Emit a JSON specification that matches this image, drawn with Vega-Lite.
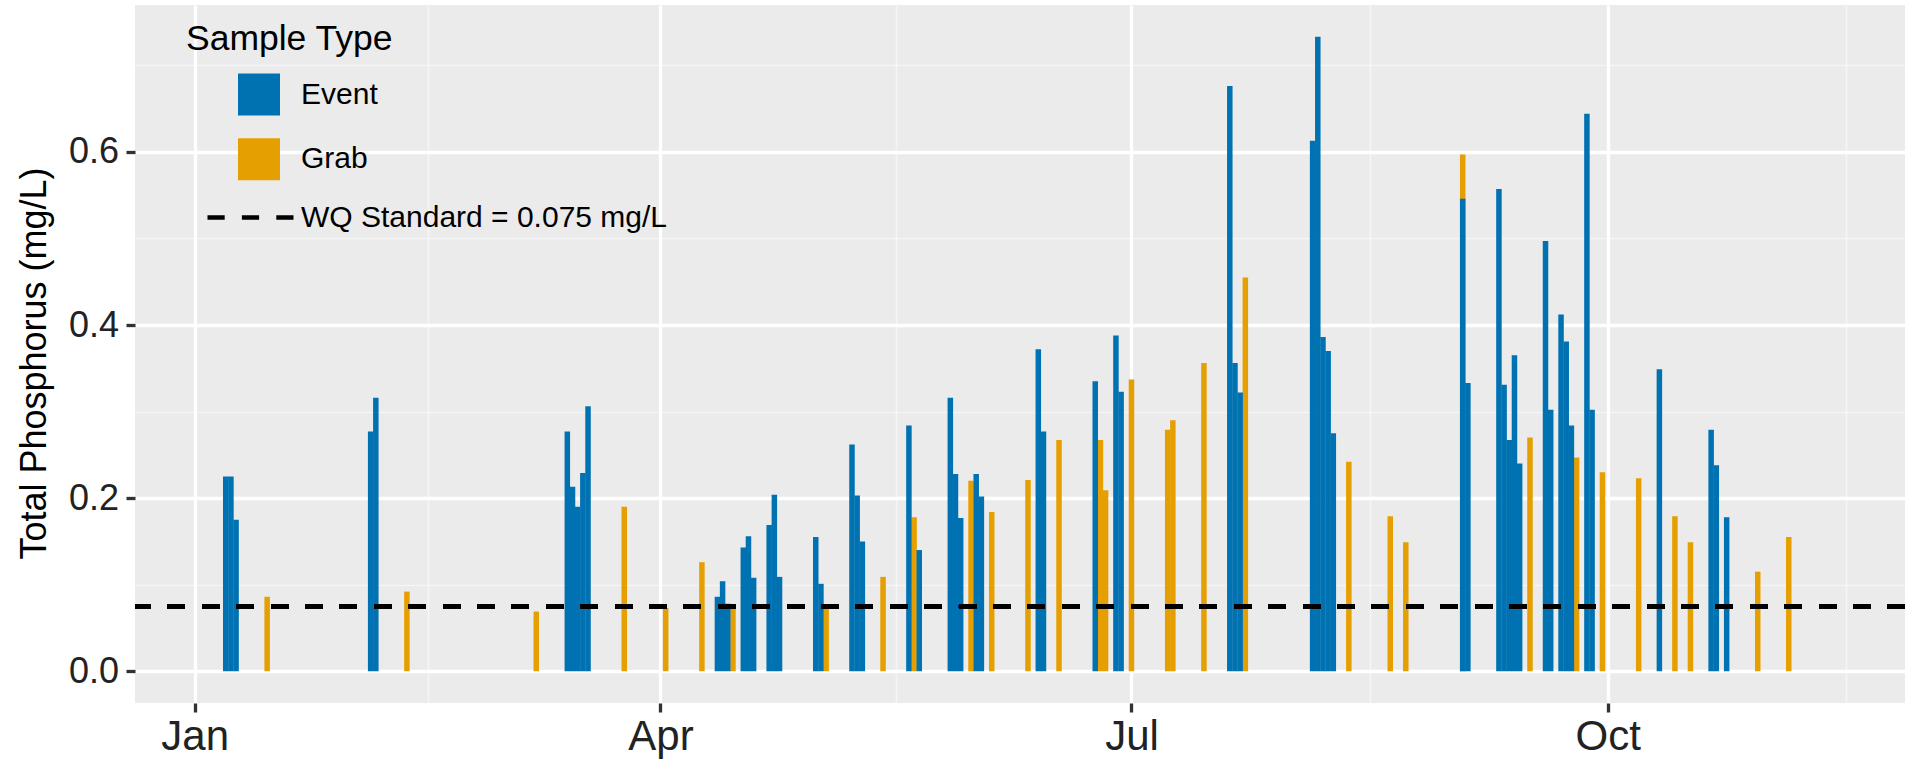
{
  "$schema": "https://vega.github.io/schema/vega-lite/v6.json",
  "width": 1770,
  "height": 698,
  "autosize": {"type": "none"},
  "padding": {"left": 135, "top": 5, "right": 0, "bottom": 56},
  "background": "white",
  "config": {
    "view": {"stroke": null, "fill": "#EBEBEB"},
    "font": "Liberation Sans",
    "legend": {"padding": 0, "labelLimit": 1000, "titleLimit": 1000}
  },
  "data": {
    "values": [
      {"date": "2019-01-15", "type": "Grab", "tp": 0.086},
      {"date": "2019-02-11", "type": "Grab", "tp": 0.092},
      {"date": "2019-03-08", "type": "Grab", "tp": 0.069},
      {"date": "2019-03-25", "type": "Grab", "tp": 0.19},
      {"date": "2019-04-02", "type": "Grab", "tp": 0.073},
      {"date": "2019-04-09", "type": "Grab", "tp": 0.126},
      {"date": "2019-04-15", "type": "Grab", "tp": 0.072},
      {"date": "2019-05-03", "type": "Grab", "tp": 0.077},
      {"date": "2019-05-14", "type": "Grab", "tp": 0.109},
      {"date": "2019-05-20", "type": "Grab", "tp": 0.178},
      {"date": "2019-05-31", "type": "Grab", "tp": 0.22},
      {"date": "2019-06-04", "type": "Grab", "tp": 0.184},
      {"date": "2019-06-11", "type": "Grab", "tp": 0.221},
      {"date": "2019-06-17", "type": "Grab", "tp": 0.267},
      {"date": "2019-06-25", "type": "Grab", "tp": 0.267},
      {"date": "2019-06-26", "type": "Grab", "tp": 0.209},
      {"date": "2019-07-01", "type": "Grab", "tp": 0.337},
      {"date": "2019-07-08", "type": "Grab", "tp": 0.279},
      {"date": "2019-07-09", "type": "Grab", "tp": 0.29},
      {"date": "2019-07-15", "type": "Grab", "tp": 0.356},
      {"date": "2019-07-23", "type": "Grab", "tp": 0.455},
      {"date": "2019-08-12", "type": "Grab", "tp": 0.242},
      {"date": "2019-08-20", "type": "Grab", "tp": 0.179},
      {"date": "2019-08-23", "type": "Grab", "tp": 0.149},
      {"date": "2019-09-03", "type": "Grab", "tp": 0.597},
      {"date": "2019-09-16", "type": "Grab", "tp": 0.27},
      {"date": "2019-09-25", "type": "Grab", "tp": 0.247},
      {"date": "2019-09-30", "type": "Grab", "tp": 0.23},
      {"date": "2019-10-07", "type": "Grab", "tp": 0.223},
      {"date": "2019-10-14", "type": "Grab", "tp": 0.179},
      {"date": "2019-10-17", "type": "Grab", "tp": 0.149},
      {"date": "2019-10-30", "type": "Grab", "tp": 0.115},
      {"date": "2019-11-05", "type": "Grab", "tp": 0.155},
      {"date": "2019-01-07", "type": "Event", "tp": 0.225},
      {"date": "2019-01-08", "type": "Event", "tp": 0.225},
      {"date": "2019-01-09", "type": "Event", "tp": 0.175},
      {"date": "2019-02-04", "type": "Event", "tp": 0.277},
      {"date": "2019-02-05", "type": "Event", "tp": 0.316},
      {"date": "2019-03-14", "type": "Event", "tp": 0.277},
      {"date": "2019-03-15", "type": "Event", "tp": 0.213},
      {"date": "2019-03-16", "type": "Event", "tp": 0.19},
      {"date": "2019-03-17", "type": "Event", "tp": 0.229},
      {"date": "2019-03-18", "type": "Event", "tp": 0.306},
      {"date": "2019-04-12", "type": "Event", "tp": 0.086},
      {"date": "2019-04-13", "type": "Event", "tp": 0.104},
      {"date": "2019-04-14", "type": "Event", "tp": 0.078},
      {"date": "2019-04-17", "type": "Event", "tp": 0.143},
      {"date": "2019-04-18", "type": "Event", "tp": 0.156},
      {"date": "2019-04-19", "type": "Event", "tp": 0.108},
      {"date": "2019-04-22", "type": "Event", "tp": 0.169},
      {"date": "2019-04-23", "type": "Event", "tp": 0.204},
      {"date": "2019-04-24", "type": "Event", "tp": 0.109},
      {"date": "2019-05-01", "type": "Event", "tp": 0.155},
      {"date": "2019-05-02", "type": "Event", "tp": 0.101},
      {"date": "2019-05-08", "type": "Event", "tp": 0.262},
      {"date": "2019-05-09", "type": "Event", "tp": 0.203},
      {"date": "2019-05-10", "type": "Event", "tp": 0.15},
      {"date": "2019-05-19", "type": "Event", "tp": 0.284},
      {"date": "2019-05-21", "type": "Event", "tp": 0.14},
      {"date": "2019-05-27", "type": "Event", "tp": 0.316},
      {"date": "2019-05-28", "type": "Event", "tp": 0.228},
      {"date": "2019-05-29", "type": "Event", "tp": 0.177},
      {"date": "2019-06-01", "type": "Event", "tp": 0.228},
      {"date": "2019-06-02", "type": "Event", "tp": 0.202},
      {"date": "2019-06-13", "type": "Event", "tp": 0.372},
      {"date": "2019-06-14", "type": "Event", "tp": 0.277},
      {"date": "2019-06-24", "type": "Event", "tp": 0.335},
      {"date": "2019-06-28", "type": "Event", "tp": 0.388},
      {"date": "2019-06-29", "type": "Event", "tp": 0.323},
      {"date": "2019-07-20", "type": "Event", "tp": 0.676},
      {"date": "2019-07-21", "type": "Event", "tp": 0.356},
      {"date": "2019-07-22", "type": "Event", "tp": 0.322},
      {"date": "2019-08-05", "type": "Event", "tp": 0.613},
      {"date": "2019-08-06", "type": "Event", "tp": 0.733},
      {"date": "2019-08-07", "type": "Event", "tp": 0.386},
      {"date": "2019-08-08", "type": "Event", "tp": 0.37},
      {"date": "2019-08-09", "type": "Event", "tp": 0.275},
      {"date": "2019-09-03", "type": "Event", "tp": 0.546},
      {"date": "2019-09-04", "type": "Event", "tp": 0.333},
      {"date": "2019-09-10", "type": "Event", "tp": 0.557},
      {"date": "2019-09-11", "type": "Event", "tp": 0.331},
      {"date": "2019-09-12", "type": "Event", "tp": 0.267},
      {"date": "2019-09-13", "type": "Event", "tp": 0.365},
      {"date": "2019-09-14", "type": "Event", "tp": 0.24},
      {"date": "2019-09-19", "type": "Event", "tp": 0.497},
      {"date": "2019-09-20", "type": "Event", "tp": 0.302},
      {"date": "2019-09-22", "type": "Event", "tp": 0.412},
      {"date": "2019-09-23", "type": "Event", "tp": 0.381},
      {"date": "2019-09-24", "type": "Event", "tp": 0.284},
      {"date": "2019-09-27", "type": "Event", "tp": 0.644},
      {"date": "2019-09-28", "type": "Event", "tp": 0.302},
      {"date": "2019-10-11", "type": "Event", "tp": 0.349},
      {"date": "2019-10-21", "type": "Event", "tp": 0.279},
      {"date": "2019-10-22", "type": "Event", "tp": 0.238},
      {"date": "2019-10-24", "type": "Event", "tp": 0.178}
    ]
  },
  "layer": [
    {
      "mark": {"type": "bar", "width": 5.5},
      "encoding": {
        "x": {
          "field": "date",
          "type": "temporal",
          "title": null,
          "scale": {
            "type": "utc",
            "domain": [
              {"year": 2018, "month": 12, "date": 21, "hours": 10, "minutes": 25, "utc": true},
              {"year": 2019, "month": 11, "date": 26, "hours": 11, "minutes": 46, "utc": true}
            ]
          },
          "axis": {
            "values": [
              {"year": 2019, "month": 1, "date": 1, "utc": true},
              {"year": 2019, "month": 2, "date": 15, "utc": true},
              {"year": 2019, "month": 4, "date": 1, "utc": true},
              {"year": 2019, "month": 5, "date": 16, "hours": 12, "utc": true},
              {"year": 2019, "month": 7, "date": 1, "utc": true},
              {"year": 2019, "month": 8, "date": 16, "utc": true},
              {"year": 2019, "month": 10, "date": 1, "utc": true},
              {"year": 2019, "month": 11, "date": 16, "utc": true}
            ],
            "labelExpr": "utcdate(datum.value) == 1 ? utcFormat(datum.value, '%b') : ''",
            "labelFlush": false,
            "labelOverlap": false,
            "labelBound": false,
            "labelFontSize": 42,
            "labelColor": "#222222",
            "labelPadding": 4,
            "domain": false,
            "tickColor": "#333333",
            "tickWidth": 3.3,
            "tickSize": 9,
            "tickOpacity": {"condition": {"test": "utcdate(datum.value) != 1", "value": 0}, "value": 1},
            "gridColor": "white",
            "gridWidth": {"condition": {"test": "utcdate(datum.value) != 1", "value": 1.6}, "value": 3.3},
            "gridOpacity": {"condition": {"test": "utcdate(datum.value) != 1", "value": 0.5}, "value": 1}
          }
        },
        "y": {
          "field": "tp",
          "type": "quantitative",
          "stack": null,
          "title": "Total Phosphorus (mg/L)",
          "scale": {"domain": [-0.0367, 0.7697], "nice": false, "zero": false},
          "axis": {
            "values": [0, 0.1, 0.2, 0.3, 0.4, 0.5, 0.6, 0.7],
            "labelExpr": "round(datum.value * 10) % 2 == 0 ? format(datum.value, '.1f') : ''",
            "labelOverlap": false,
            "labelBound": false,
            "labelFlush": false,
            "labelFontSize": 36,
            "labelColor": "#222222",
            "labelPadding": 7.5,
            "domain": false,
            "tickColor": "#333333",
            "tickWidth": 3.3,
            "tickSize": 9,
            "tickOpacity": {"condition": {"test": "round(datum.value * 10) % 2 == 1", "value": 0}, "value": 1},
            "gridColor": "white",
            "gridWidth": {"condition": {"test": "round(datum.value * 10) % 2 == 1", "value": 1.6}, "value": 3.3},
            "gridOpacity": {"condition": {"test": "round(datum.value * 10) % 2 == 1", "value": 0.5}, "value": 1},
            "titleFontSize": 36,
            "titleFontWeight": "normal",
            "titleColor": "black",
            "titlePadding": 15,
            "titleY": 358
          }
        },
        "y2": {"datum": 0},
        "color": {
          "field": "type",
          "type": "nominal",
          "title": "Sample Type",
          "scale": {"domain": ["Event", "Grab"], "range": ["#0072B2", "#E69F00"]},
          "legend": {
            "orient": "none",
            "legendX": 51,
            "legendY": 17,
            "titleFontSize": 35.5,
            "titleFontWeight": "normal",
            "titleColor": "black",
            "titlePadding": 16,
            "labelFontSize": 30,
            "labelColor": "black",
            "symbolType": "square",
            "symbolSize": 1764,
            "symbolStrokeWidth": 0,
            "symbolOpacity": 1,
            "symbolOffset": 52,
            "labelOffset": 21,
            "rowPadding": 22.7
          }
        }
      }
    },
    {
      "mark": {"type": "rule", "strokeWidth": 4.3, "color": "black"},
      "encoding": {
        "y": {"datum": 0.075},
        "strokeDash": {
          "datum": "WQ Standard = 0.075 mg/L",
          "type": "nominal",
          "scale": {"range": [[17.2, 17.2]]},
          "legend": {
            "title": null,
            "orient": "none",
            "legendX": 70,
            "legendY": 167,
            "symbolType": "stroke",
            "symbolSize": 7400,
            "symbolStrokeWidth": 4.3,
            "symbolStrokeColor": "black",
            "labelOffset": 5,
            "labelFontSize": 30,
            "labelColor": "black"
          }
        }
      }
    }
  ]
}
